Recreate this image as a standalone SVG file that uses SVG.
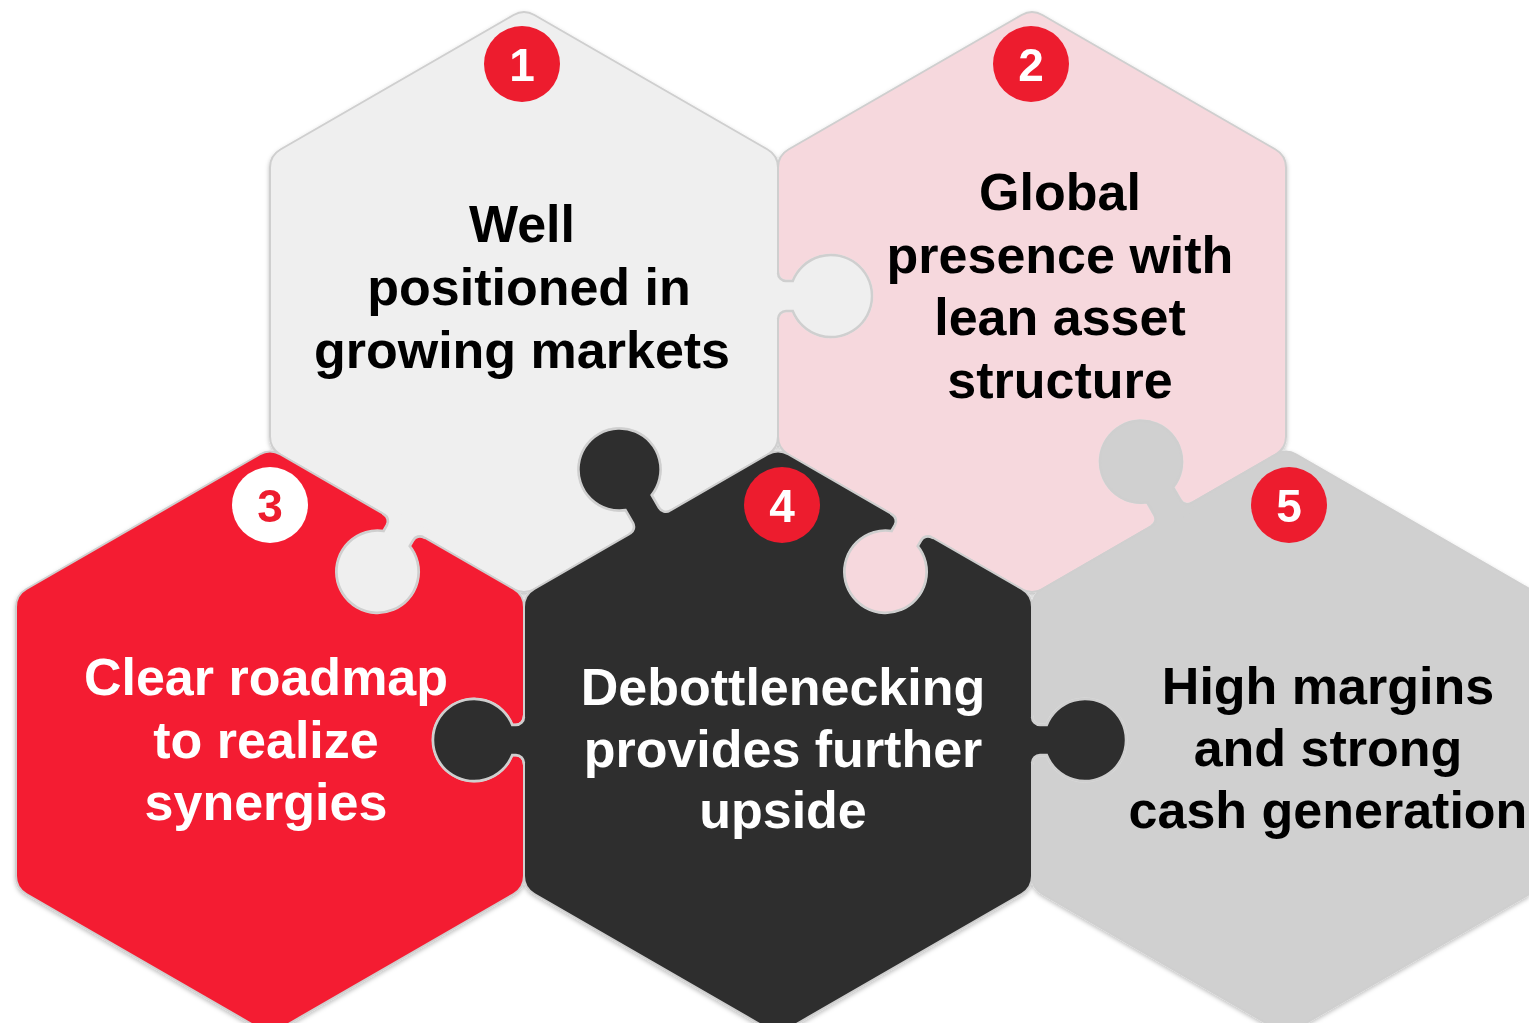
<svg xmlns="http://www.w3.org/2000/svg" width="1529" height="1023" viewBox="0 0 1529 1023">
<style>
.hex{stroke:#cfcfcf;stroke-width:2}
.seam{fill:none;stroke:#cfcfcf;stroke-width:2.4}
.c1{fill:#efefef}.c2{fill:#f6d8dd}.c3{fill:#f41f33}.c4{fill:#2e2e2e}.c5{fill:#d0d0d0}
.lbl{font-family:"Liberation Sans",Arial,Helvetica,sans-serif;font-weight:bold;font-size:52px;text-anchor:middle}
.dk{fill:#000}.lt{fill:#fff}
.badge{fill:#ed1b2e}
.num{font-family:"Liberation Sans",Arial,Helvetica,sans-serif;font-weight:bold;font-size:46px;text-anchor:middle;fill:#fff}
.hole{fill:#000;stroke:#000;stroke-width:3}
</style>
<defs>
<path id="hex" d="M 10.4,-287 L 243.6,-152.5 Q 254,-146.5 254,-134.5 L 254,134.5 Q 254,146.5 243.6,152.5 L 10.4,287 Q 0,293 -10.4,287 L -243.6,152.5 Q -254,146.5 -254,134.5 L -254,-134.5 Q -254,-146.5 -243.6,-152.5 L -10.4,-287 Q 0,-293 10.4,-287 Z"/>
<path id="k50" d="M -8,-23 L 0,-23 C 0,-18.6 3.6,-15 8,-15 L 11.8,-15 A 41 41 0 1 1 11.8,15 L 8,15 C 3.6,15 0,18.6 0,23 L -8,23 Z"/>
<path id="k50o" d="M 0,-23 C 0,-18.6 3.6,-15 8,-15 L 11.8,-15 A 41 41 0 1 1 11.8,15 L 8,15 C 3.6,15 0,18.6 0,23"/>
<path id="k53" d="M -8,-23 L 0,-23 C 0,-18.6 3.6,-15 8,-15 L 14.8,-15 A 41 41 0 1 1 14.8,15 L 8,15 C 3.6,15 0,18.6 0,23 L -8,23 Z"/>
<path id="k53o" d="M 0,-23 C 0,-18.6 3.6,-15 8,-15 L 14.8,-15 A 41 41 0 1 1 14.8,15 L 8,15 C 3.6,15 0,18.6 0,23"/>
<path id="k61" d="M -8,-23 L 0,-23 C 0,-18.6 3.6,-15 8,-15 L 22.8,-15 A 41 41 0 1 1 22.8,15 L 8,15 C 3.6,15 0,18.6 0,23 L -8,23 Z"/>
<path id="k61o" d="M 0,-23 C 0,-18.6 3.6,-15 8,-15 L 22.8,-15 A 41 41 0 1 1 22.8,15 L 8,15 C 3.6,15 0,18.6 0,23"/>
<mask id="m1" maskUnits="userSpaceOnUse" x="0" y="0" width="1529" height="1023">
<rect width="1529" height="1023" fill="#fff"/>
<use href="#k61" class="hole" transform="translate(650,522.3) rotate(-120)"/>
</mask>
<mask id="m2" maskUnits="userSpaceOnUse" x="0" y="0" width="1529" height="1023">
<rect width="1529" height="1023" fill="#fff"/>
<use href="#k53" class="hole" transform="translate(778,296)"/>
<use href="#k61" class="hole" transform="translate(1171.5,514.5) rotate(-120)"/>
</mask>
<mask id="m3" maskUnits="userSpaceOnUse" x="0" y="0" width="1529" height="1023">
<rect width="1529" height="1023" fill="#fff"/>
<use href="#k53" class="hole" transform="translate(404,525.8) rotate(120)"/>
<use href="#k50" class="hole" transform="translate(524,740) rotate(180)"/>
</mask>
<mask id="m4" maskUnits="userSpaceOnUse" x="0" y="0" width="1529" height="1023">
<rect width="1529" height="1023" fill="#fff"/>
<use href="#k53" class="hole" transform="translate(912,525.8) rotate(120)"/>
</mask>
<mask id="m5" maskUnits="userSpaceOnUse" x="0" y="0" width="1529" height="1023">
<rect width="1529" height="1023" fill="#fff"/>
<use href="#k53" class="hole" transform="translate(1032,740)"/>
</mask>
<filter id="sh" x="-5%" y="-5%" width="110%" height="110%">
<feDropShadow dx="0" dy="2" stdDeviation="2" flood-color="#000" flood-opacity="0.25"/>
</filter>
</defs>
<rect width="1529" height="1023" fill="#fff"/>
<g id="pieces" filter="url(#sh)">
<g id="node1">
<g mask="url(#m1)"><use href="#hex" class="hex c1" transform="translate(524,302)"/></g>
<use href="#k53" class="c1" transform="translate(778,296)"/>
<use href="#k53o" class="seam" transform="translate(778,296)"/>
<use href="#k53" class="c1" transform="translate(404,525.8) rotate(120)"/>
<use href="#k53o" class="seam" transform="translate(404,525.8) rotate(120)"/>
<circle class="badge" cx="522" cy="64" r="38"/>
<text class="num" x="522" y="80.5">1</text>
<text class="lbl dk" x="522" y="242">Well</text>
<text class="lbl dk" x="529" y="305">positioned in</text>
<text class="lbl dk" x="522" y="368">growing markets</text>
</g>
<g id="node2">
<g mask="url(#m2)"><use href="#hex" class="hex c2" transform="translate(1032,302)"/></g>
<use href="#k53" class="c2" transform="translate(912,525.8) rotate(120)"/>
<use href="#k53o" class="seam" transform="translate(912,525.8) rotate(120)"/>
<circle class="badge" cx="1031" cy="64" r="38"/>
<text class="num" x="1031" y="80.5">2</text>
<text class="lbl dk" x="1060" y="210">Global</text>
<text class="lbl dk" x="1060" y="273">presence with</text>
<text class="lbl dk" x="1060" y="335">lean asset</text>
<text class="lbl dk" x="1060" y="398">structure</text>
</g>
<g id="node3">
<g mask="url(#m3)"><use href="#hex" class="hex c3" transform="translate(270,741.5)"/></g>
<circle cx="270" cy="505" r="38" fill="#fff"/>
<text class="num" x="270" y="521.5" style="fill:#ed1b2e">3</text>
<text class="lbl lt" x="266" y="695">Clear roadmap</text>
<text class="lbl lt" x="266" y="758">to realize</text>
<text class="lbl lt" x="266" y="820">synergies</text>
</g>
<g id="node4">
<g mask="url(#m4)"><use href="#hex" class="hex c4" transform="translate(778,741.5)"/></g>
<use href="#k61" class="c4" transform="translate(650,522.3) rotate(-120)"/>
<use href="#k61o" class="seam" transform="translate(650,522.3) rotate(-120)"/>
<use href="#k50" class="c4" transform="translate(524,740) rotate(180)"/>
<use href="#k50o" class="seam" transform="translate(524,740) rotate(180)"/>
<use href="#k53" class="c4" transform="translate(1032,740)"/>
<use href="#k53o" class="seam" transform="translate(1032,740)"/>
<circle class="badge" cx="782" cy="505" r="38"/>
<text class="num" x="782" y="521.5">4</text>
<text class="lbl lt" x="783" y="705">Debottlenecking</text>
<text class="lbl lt" x="783" y="767">provides further</text>
<text class="lbl lt" x="783" y="828">upside</text>
</g>
<g id="node5">
<g mask="url(#m5)"><use href="#hex" class="hex c5" transform="translate(1286,741.5)"/></g>
<use href="#k61" class="c5" transform="translate(1171.5,514.5) rotate(-120)"/>
<use href="#k61o" class="seam" transform="translate(1171.5,514.5) rotate(-120)"/>
<circle class="badge" cx="1289" cy="505" r="38"/>
<text class="num" x="1289" y="521.5">5</text>
<text class="lbl dk" x="1328" y="704">High margins</text>
<text class="lbl dk" x="1328" y="766">and strong</text>
<text class="lbl dk" x="1328" y="828">cash generation</text>
</g>
</g>
<g id="connectors"/>
</svg>
